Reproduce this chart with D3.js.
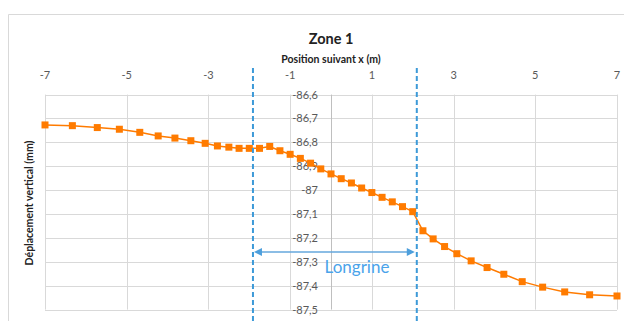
<!DOCTYPE html>
<html>
<head>
<meta charset="utf-8">
<script src="https://cdn.jsdelivr.net/npm/d3@7"></script>
<style>
  body { margin: 0; background: #fff; }
  svg { display: block; font-family: Lato, "Open Sans", sans-serif; }
</style>
</head>
<body>
<svg id="chart" width="624" height="321"></svg>
<script>
// Data
const xPos = [-7, -6.33, -5.72, -5.18, -4.68, -4.23, -3.82, -3.43, -3.08, -2.78, -2.5,
    -2.25, -2, -1.75, -1.5, -1.25, -1, -0.75, -0.5, -0.25, 0, 0.25, 0.5, 0.75, 1,
    1.25, 1.5, 1.75, 2, 2.25, 2.5, 2.78, 3.08, 3.43, 3.82, 4.23, 4.68, 5.18, 5.72, 6.33, 7];
const deplacement = [-86.727, -86.730, -86.738, -86.745, -86.758, -86.773, -86.782, -86.793, -86.804, -86.815, -86.820,
    -86.825, -86.825, -86.825, -86.817, -86.835, -86.850, -86.867, -86.887, -86.911, -86.932, -86.952, -86.970, -86.991, -87.010,
    -87.030, -87.049, -87.069, -87.090, -87.170, -87.204, -87.236, -87.266, -87.296, -87.324, -87.352, -87.383, -87.406, -87.426, -87.438, -87.443];
const xTicks = [-7, -5, -3, -1, 1, 3, 5, 7];
const yTicks = [-86.6, -86.7, -86.8, -86.9, -87, -87.1, -87.2, -87.3, -87.4, -87.5];
const longrine = [-1.91, 2.10];

const ORANGE = '#ff7b00';
const BLUE = '#3d9ad8';
const GRID = '#d9d9d9';
const LABEL = '#595959';

const svg = d3.select("svg#chart");

const x = d3.scaleLinear().domain([-7, 7]).range([45, 617]);
const y = d3.scaleLinear().domain([-86.6, -87.5]).range([94.6, 309.6]);

// outer chart border
svg.append("path")
    .attr("d", "M8.5,321 V14.5 H624")
    .attr("fill", "none")
    .attr("stroke", GRID);

// horizontal gridlines
svg.append("g")
    .selectAll("line")
    .data(yTicks)
    .join("line")
    .attr("x1", x(-7)).attr("x2", x(7))
    .attr("y1", d => Math.round(y(d)) + 0.5)
    .attr("y2", d => Math.round(y(d)) + 0.5)
    .attr("stroke", GRID);

// vertical gridlines
svg.append("g")
    .selectAll("line")
    .data(xTicks)
    .join("line")
    .attr("x1", d => Math.round(x(d)) + 0.5)
    .attr("x2", d => Math.round(x(d)) + 0.5)
    .attr("y1", y(-86.6)).attr("y2", y(-87.5))
    .attr("stroke", GRID);

// vertical axis at x = 0
svg.append("line")
    .attr("x1", Math.round(x(0)) + 0.5).attr("x2", Math.round(x(0)) + 0.5)
    .attr("y1", y(-86.6)).attr("y2", y(-87.5))
    .attr("stroke", "#bfbfbf");

// x tick labels (top)
svg.append("g")
    .selectAll("text")
    .data(xTicks)
    .join("text")
    .attr("x", d => x(d))
    .attr("y", 79)
    .attr("text-anchor", "middle")
    .attr("font-size", 11)
    .attr("fill", LABEL)
    .text(d => d);

// y tick labels next to the x = 0 axis
const fmt = v => String(Math.round(v * 10) / 10).replace('.', ',');
svg.append("g")
    .selectAll("text")
    .data(yTicks)
    .join("text")
    .attr("x", x(0) - 13)
    .attr("y", d => y(d) + 4)
    .attr("text-anchor", "end")
    .attr("font-size", 11)
    .attr("fill", LABEL)
    .text(fmt);

// titles
svg.append("text")
    .attr("x", 331).attr("y", 44)
    .attr("text-anchor", "middle")
    .attr("font-size", 14.5)
    .attr("font-weight", "bold")
    .attr("fill", "#222")
    .text("Zone 1");

svg.append("text")
    .attr("x", 331).attr("y", 63)
    .attr("text-anchor", "middle")
    .attr("font-size", 10.5)
    .attr("font-weight", "bold")
    .attr("fill", "#222")
    .text("Position suivant x (m)");

svg.append("text")
    .attr("transform", "translate(33,203) rotate(-90)")
    .attr("text-anchor", "middle")
    .attr("font-size", 10.5)
    .attr("font-weight", "bold")
    .attr("fill", "#222")
    .text("Déplacement vertical (mm)");

// series line and markers
const pts = xPos.map((d, i) => [d, deplacement[i]]);
const line = d3.line().x(d => x(d[0])).y(d => y(d[1]));

svg.append("path")
    .datum(pts)
    .attr("d", line)
    .attr("fill", "none")
    .attr("stroke", ORANGE)
    .attr("stroke-width", 1.5);

svg.append("g")
    .selectAll("rect")
    .data(pts)
    .join("rect")
    .attr("x", d => x(d[0]) - 3.5)
    .attr("y", d => y(d[1]) - 3.5)
    .attr("width", 7)
    .attr("height", 7)
    .attr("fill", ORANGE);

// longrine dashed limits
svg.append("g")
    .selectAll("line")
    .data(longrine)
    .join("line")
    .attr("x1", d => x(d)).attr("x2", d => x(d))
    .attr("y1", 68).attr("y2", 321)
    .attr("stroke", BLUE)
    .attr("stroke-width", 2)
    .attr("stroke-dasharray", "5,3");

// double arrow
const ay = 252;
const x0 = x(longrine[0]) + 1, x1 = x(longrine[1]) - 2;
svg.append("line")
    .attr("x1", x0 + 6).attr("x2", x1 - 6)
    .attr("y1", ay).attr("y2", ay)
    .attr("stroke", "#64a7dc")
    .attr("stroke-width", 1.5);
svg.append("path")
    .attr("d", `M${x0},${ay} l8,-4 v8 Z M${x1},${ay} l-8,-4 v8 Z`)
    .attr("fill", "#4d9fdc");

svg.append("text")
    .attr("x", 357).attr("y", 273)
    .attr("text-anchor", "middle")
    .attr("font-size", 17)
    .attr("fill", "#4aa3ea")
    .text("Longrine");
</script>
</body>
</html>
